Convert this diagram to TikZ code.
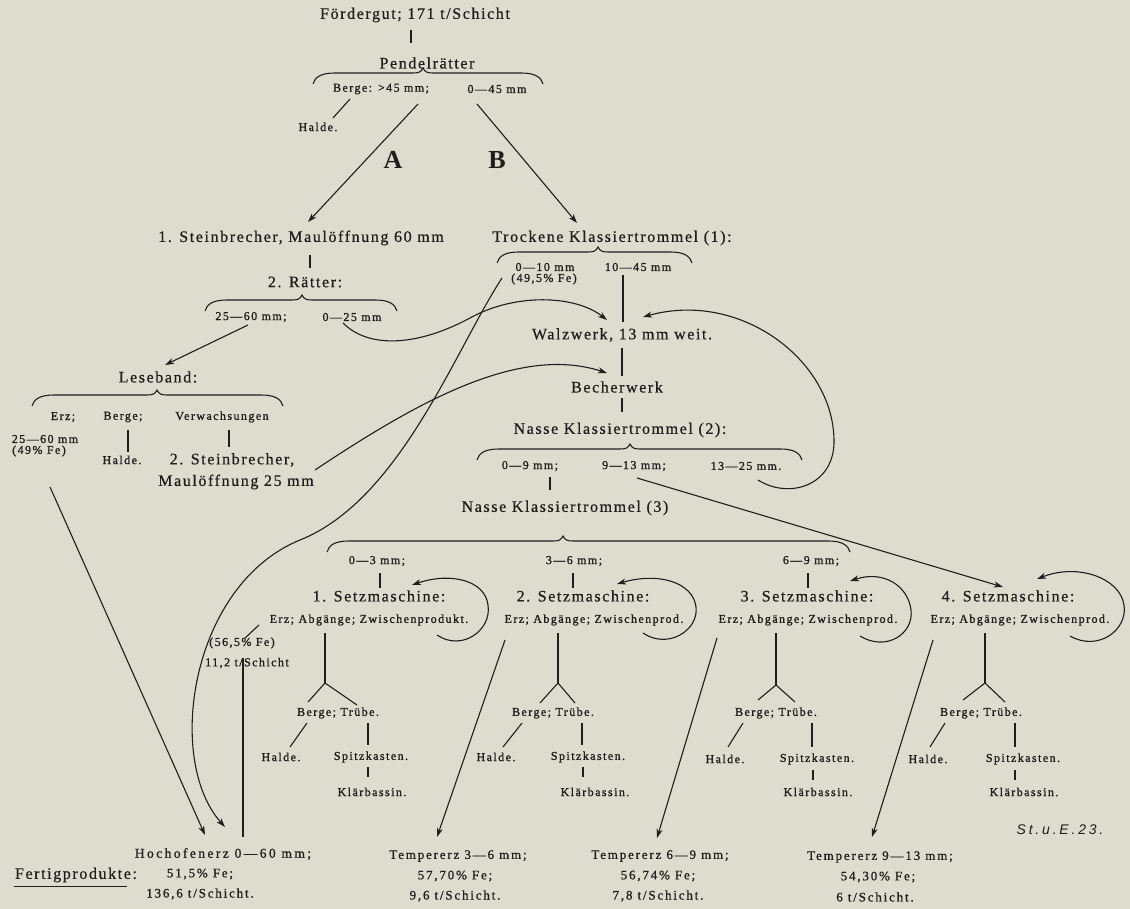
\documentclass[tikz,border=0pt]{standalone}
\usepackage{fontspec}
\setmainfont{Liberation Serif}
\setsansfont{Liberation Sans}
\newfontfamily\mainfnt[LetterSpace=10,FakeBold=0.6]{Liberation Serif}
\newfontfamily\smallfnt[LetterSpace=12,FakeBold=1.2]{Liberation Serif}
\newfontfamily\botfnt[LetterSpace=14,FakeBold=0.9]{Liberation Serif}
\newfontfamily\hochfnt[LetterSpace=18,FakeBold=0.9]{Liberation Serif}
\newfontfamily\fertfnt[LetterSpace=10,FakeBold=0.6]{Liberation Serif}
\newfontfamily\signfnt[LetterSpace=20]{Liberation Sans}
\usetikzlibrary{arrows.meta,calc}
\definecolor{paper}{RGB}{222,220,206}
\definecolor{ink}{RGB}{30,30,28}
% #1 left x, #2 right x, #3 top y, #4 cusp x
\newcommand\tbrace[4]{%
  \draw[brc] (#1,#3+11) .. controls (#1+2,#3+4) and (#1+8,#3) .. (#1+22,#3)
    -- (#4-10,#3) .. controls (#4-4,#3) and (#4-2,#3-1) .. (#4,#3-5)
    .. controls (#4+2,#3-1) and (#4+4,#3) .. (#4+10,#3)
    -- (#2-22,#3) .. controls (#2-8,#3) and (#2-2,#3+4) .. (#2,#3+11);}
\begin{document}
\begin{tikzpicture}[x=1pt,y=-1pt,
  every node/.style={inner sep=0pt, text=ink},
  mainlbl/.style={font=\mainfnt\fontsize{16}{18}\selectfont},
  smalllbl/.style={font=\smallfnt\fontsize{12}{14}\selectfont},
  botlbl/.style={font=\botfnt\fontsize{13}{15}\selectfont},
  biglbl/.style={font=\bfseries\fontsize{26}{28}\selectfont},
  lnk/.style={draw=ink, line width=1.1pt},
  arr/.style={lnk, -{Stealth[length=9pt,width=6pt,inset=2.5pt]}},
  brc/.style={draw=ink, line width=1.1pt}]
\useasboundingbox (0,0) rectangle (1130,909);
\fill[paper] (0,0) rectangle (1130,909);

% ---------- top ----------
\node[mainlbl] (ford) at (415,15) {Fördergut; 171 t/Schicht};
\node[mainlbl] (pend) at (427,63) {Pendelrätter};
\tbrace{313}{543}{73}{423}
\node[smalllbl] (pberge) at (381,89) {Berge: >45 mm;};
\node[smalllbl] (p045) at (497,89) {0—45 mm};
\node[smalllbl] (halde0) at (318,127) {Halde.};
\node[biglbl] (labA) at (393,160) {A};
\node[biglbl] (labB) at (497,160) {B};

% ---------- branch A ----------
\node[mainlbl] (stein1) at (301,238) {1. Steinbrecher, Maulöffnung 60 mm};
\node[mainlbl] (raetter) at (305,282) {2. Rätter:};
\tbrace{205}{397}{300}{302}
\node[smalllbl] (r2560) at (251,317) {25—60 mm;};
\node[smalllbl] (r025) at (352,317) {0—25 mm};
\node[mainlbl] (lese) at (158,377) {Leseband:};
\tbrace{32}{283}{395}{157}
\node[smalllbl] (lerz) at (63,417) {Erz;};
\node[smalllbl] (lberge) at (123,417) {Berge;};
\node[smalllbl] (lverw) at (222,417) {Verwachsungen};
\node[smalllbl] (l2560) at (45,439) {25—60 mm};
\node[smalllbl] (l49) at (39,451) {(49\% Fe)};
\node[smalllbl] (halde1) at (122,460) {Halde.};
\node[mainlbl] (stein2a) at (232,460) {2. Steinbrecher,};
\node[mainlbl] (stein2b) at (236,482) {Maulöffnung 25 mm};

% ---------- branch B ----------
\node[mainlbl] (trock) at (612,238) {Trockene Klassiertrommel (1):};
\tbrace{497}{692}{252}{598}
\node[smalllbl] (t010) at (545,267) {0—10 mm};
\node[smalllbl] (t1045) at (638,267) {10—45 mm};
\node[smalllbl] (t495) at (544,279) {(49,5\% Fe)};
\node[mainlbl] (walz) at (622,335) {Walzwerk, 13 mm weit.};
\node[mainlbl] (becher) at (617,387) {Becherwerk};
\node[mainlbl] (nasse2) at (620,430) {Nasse Klassiertrommel (2):};
\tbrace{477}{802}{449}{630}
\node[smalllbl] (n09) at (530,466) {0—9 mm;};
\node[smalllbl] (n913) at (634,466) {9—13 mm;};
\node[smalllbl] (n1325) at (746,466) {13—25 mm.};
\node[mainlbl] (nasse3) at (565,508) {Nasse Klassiertrommel (3)};
\tbrace{327}{850}{541}{563}
\node[smalllbl] (s03) at (377,561) {0—3 mm;};
\node[smalllbl] (s36) at (574,561) {3—6 mm;};
\node[smalllbl] (s69) at (811,561) {6—9 mm;};
\node[mainlbl] (set1) at (379,596) {1. Setzmaschine:};
\node[mainlbl] (set2) at (583,596) {2. Setzmaschine:};
\node[mainlbl] (set3) at (807,596) {3. Setzmaschine:};
\node[mainlbl] (set4) at (1008,596) {4. Setzmaschine:};
\node[smalllbl] (row1) at (369,620) {Erz; Abgänge; Zwischenprodukt.};
\node[smalllbl] (row2) at (594,620) {Erz; Abgänge; Zwischenprod.};
\node[smalllbl] (row3) at (808,620) {Erz; Abgänge; Zwischenprod.};
\node[smalllbl] (row4) at (1020,620) {Erz; Abgänge; Zwischenprod.};
\node[smalllbl] (fe565) at (242,643) {(56,5\% Fe)};
\node[smalllbl] (fe112) at (247,663) {11,2 t/Schicht};

\node[smalllbl] (bt1) at (338,713) {Berge; Trübe.};
\node[smalllbl] (bt2) at (553,713) {Berge; Trübe.};
\node[smalllbl] (bt3) at (776,713) {Berge; Trübe.};
\node[smalllbl] (bt4) at (981,713) {Berge; Trübe.};
\node[smalllbl] (halde2) at (281,757) {Halde.};
\node[smalllbl] (halde3) at (496,757) {Halde.};
\node[smalllbl] (halde4) at (725,759) {Halde.};
\node[smalllbl] (halde5) at (928,759) {Halde.};
\node[smalllbl] (spitz1) at (371,757) {Spitzkasten.};
\node[smalllbl] (spitz2) at (588,757) {Spitzkasten.};
\node[smalllbl] (spitz3) at (817,759) {Spitzkasten.};
\node[smalllbl] (spitz4) at (1023,759) {Spitzkasten.};
\node[smalllbl] (klar1) at (372,792) {Klärbassin.};
\node[smalllbl] (klar2) at (595,792) {Klärbassin.};
\node[smalllbl] (klar3) at (818,792) {Klärbassin.};
\node[smalllbl] (klar4) at (1024,792) {Klärbassin.};

% ---------- products ----------
\node[font=\fertfnt\fontsize{16}{18}\selectfont] (fert) at (76,875) {Fertigprodukte:};
\node[font=\hochfnt\fontsize{13.5}{15}\selectfont] (hoch) at (223,854) {Hochofenerz 0—60 mm;};
\node[botlbl] (hoch2) at (200,874) {51,5\% Fe;};
\node[botlbl] (hoch3) at (200,894) {136,6 t/Schicht.};
\node[botlbl] (temp1) at (458,856) {Tempererz 3—6 mm;};
\node[botlbl] (temp1b) at (455,876) {57,70\% Fe;};
\node[botlbl] (temp1c) at (455,896) {9,6 t/Schicht.};
\node[botlbl] (temp2) at (660,856) {Tempererz 6—9 mm;};
\node[botlbl] (temp2b) at (658,876) {56,74\% Fe;};
\node[botlbl] (temp2c) at (658,896) {7,8 t/Schicht.};
\node[botlbl] (temp3) at (880,857) {Tempererz 9—13 mm;};
\node[botlbl] (temp3b) at (878,877) {54,30\% Fe;};
\node[botlbl] (temp3c) at (875,897) {6 t/Schicht.};
\node[font=\signfnt\itshape\fontsize{14}{16}\selectfont] (sign) at (1060,830) {St.u.E.23.};
\draw[lnk] ($(fert.south west)+(-1,4)$) -- ($(fert.south east)+(-10,4)$);

% ---------- connectors ----------
\draw[lnk] ($(ford)+(-4,15)$) -- ($(pend)+(-16,-20)$);
\draw[lnk] ($(pberge)+(-31,10)$) -- ($(halde0)+(15,-9)$);
\draw[arr] ($(pberge)+(37,15)$) -- ($(stein1)+(7,-16)$);
\draw[arr] ($(p045)+(-20,15)$) -- ($(trock)+(-35,-15)$);
\draw[lnk] ($(stein1)+(9,17)$) -- ($(raetter)+(5,-14)$);
\draw[arr] ($(r2560)+(-3,8)$) -- ($(lese)+(7,-12)$);
\draw[lnk] ($(lberge)+(5,13)$) -- ($(halde1)+(6,-8)$);
\draw[lnk] ($(lverw)+(7,13)$) -- ($(stein2a)+(-3,-13)$);
\draw[lnk] ($(t1045)+(-15,8)$) -- ($(walz)+(1,-13)$);
\draw[lnk] ($(walz)+(0,13)$) -- ($(becher)+(5,-11)$);
\draw[lnk] ($(becher)+(5,11)$) -- ($(nasse2)+(2,-18)$);
\draw[lnk] ($(n09)+(20,11)$) -- ($(nasse3)+(-15,-18)$);
\draw[lnk] ($(s03)+(3,12)$) -- ($(set1)+(1,-8)$);
\draw[lnk] ($(s36)+(-1,12)$) -- ($(set2)+(-10,-8)$);
\draw[lnk] ($(s69)+(-3,12)$) -- ($(set3)+(1,-8)$);

% curves
\draw[arr] ($(r025)+(-9,6)$) .. controls (370,350) and (420,345) .. (470,318)
  .. controls (515,293) and (575,295) .. ($(walz)+(-15,-15)$);
\draw[arr] ($(t495)+(-42,-1)$) .. controls (455,350) and (400,500) .. (300,540)
  .. controls (190,585) and (165,760) .. ($(hoch)+(2,-27)$);
\draw[arr] ($(stein2a)+(83,10)$) .. controls (420,400) and (520,345) .. ($(becher)+(-10,-14)$);
\draw[arr] ($(n1325)+(12,14)$) .. controls (790,500) and (835,485) .. (834,440)
  .. controls (833,360) and (740,290) .. ($(walz)+(21,-18)$);
\draw[arr] ($(n913)+(3,12)$) -- ($(set4)+(-5,-9)$);

% loops Zwischenprodukt -> Setzmaschine
\draw[arr] ($(row1)+(68,15)$) .. controls (462,652) and (492,630) .. (488,605)
  .. controls (485,580) and (450,572) .. ($(set1)+(33,-11)$);
\draw[arr] ($(row2)+(49,13)$) .. controls (668,650) and (699,630) .. (696,607)
  .. controls (693,582) and (658,572) .. ($(set2)+(34,-12)$);
\draw[arr] ($(row3)+(52,16)$) .. controls (886,652) and (914,634) .. (911,610)
  .. controls (908,586) and (884,570) .. ($(set3)+(43,-15)$);
\draw[arr] ($(row4)+(50,16)$) .. controls (1098,652) and (1128,630) .. (1124,605)
  .. controls (1120,578) and (1078,563) .. ($(set4)+(29,-17)$);

% forks
\coordinate (v1) at (325,683);
\coordinate (v2) at (558,683);
\coordinate (v3) at (776,685);
\coordinate (v4) at (985,683);
\draw[lnk] ($(row1)+(-44,13)$) -- (v1);
\draw[lnk] ($(bt1)+(-30,-11)$) -- (v1) -- ($(bt1)+(19,-8)$);
\draw[lnk] ($(row2)+(-36,13)$) -- (v2);
\draw[lnk] ($(bt2)+(-13,-10)$) -- (v2) -- ($(bt2)+(22,-10)$);
\draw[lnk] ($(row3)+(-32,13)$) -- (v3);
\draw[lnk] ($(bt3)+(-18,-13)$) -- (v3) -- ($(bt3)+(19,-11)$);
\draw[lnk] ($(row4)+(-35,13)$) -- (v4);
\draw[lnk] ($(bt4)+(-18,-13)$) -- (v4) -- ($(bt4)+(24,-11)$);

\draw[lnk] ($(bt1)+(-31,10)$) -- ($(halde2)+(9,-10)$);
\draw[lnk] ($(bt2)+(-31,10)$) -- ($(halde3)+(7,-10)$);
\draw[lnk] ($(bt3)+(-33,10)$) -- ($(halde4)+(3,-12)$);
\draw[lnk] ($(bt4)+(-36,10)$) -- ($(halde5)+(2,-12)$);
\draw[lnk] ($(bt1)+(30,10)$) -- ($(spitz1)+(-3,-12)$);
\draw[lnk] ($(bt2)+(29,10)$) -- ($(spitz2)+(-6,-12)$);
\draw[lnk] ($(bt3)+(36,10)$) -- ($(spitz3)+(-5,-12)$);
\draw[lnk] ($(bt4)+(34,10)$) -- ($(spitz4)+(-8,-12)$);
\draw[lnk] ($(spitz1)+(-3,10)$) -- ($(klar1)+(-4,-15)$);
\draw[lnk] ($(spitz2)+(-5,10)$) -- ($(klar2)+(-12,-15)$);
\draw[lnk] ($(spitz3)+(-4,11)$) -- ($(klar3)+(-5,-12)$);
\draw[lnk] ($(spitz4)+(-8,11)$) -- ($(klar4)+(-9,-12)$);

% to products
\draw[arr] ($(l49)+(11,36)$) -- ($(hoch)+(-18,-19)$);
\draw[lnk] ($(row1)+(-110,5)$) -- ($(fe565)+(3,-5)$);
\draw[lnk] ($(fe112)+(-4,-5)$) -- ($(hoch)+(20,-17)$);
\draw[arr] ($(row2)+(-89,20)$) -- ($(temp1)+(-21,-19)$);
\draw[arr] ($(row3)+(-91,18)$) -- ($(temp2)+(-3,-18)$);
\draw[arr] ($(row4)+(-87,20)$) -- ($(temp3)+(-8,-20)$);
\end{tikzpicture}
\end{document}
